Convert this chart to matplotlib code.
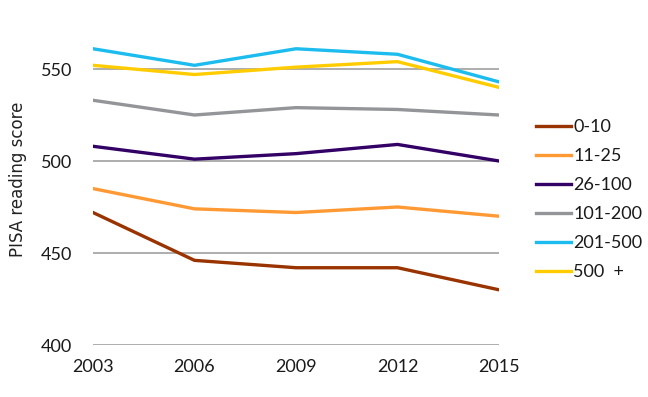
import matplotlib
matplotlib.use("Agg")
import matplotlib.pyplot as plt

# データ
years = [2003, 2006, 2009, 2012, 2015]
school_sizes = ["0-10", "11-25", "26-100", "101-200", "201-500", "500  +"]
s_0_10 = [472, 446, 442, 442, 430]
s_11_25 = [485, 474, 472, 475, 470]
s_26_100 = [508, 501, 504, 509, 500]
s_101_200 = [533, 525, 529, 528, 525]
s_201_500 = [561, 552, 561, 558, 543]
s_500_plus = [552, 547, 551, 554, 540]

colors = ["#993300", "#FF9933", "#330066", "#939598", "#1CBCEE", "#FFCC00"]

plt.rcParams['font.family'] = ['Lato', 'DejaVu Sans']

fig = plt.figure(figsize=(6.48, 3.97), dpi=100)
ax = fig.add_axes([93/648, 1 - 345/397, (499 - 93)/648, (345 - 13.8)/397])

series = [s_0_10, s_11_25, s_26_100, s_101_200, s_201_500, s_500_plus]
for label, vals, c in zip(school_sizes, series, colors):
    ax.plot(years, vals, color=c, linewidth=2.4, label=label, zorder=3)

ax.set_xlim(2003, 2015)
ax.set_ylim(400, 580)
ax.set_xticks(years)
ax.set_yticks([400, 450, 500, 550])
ax.yaxis.grid(True, color="#a0a0a0", linewidth=1.2)
ax.set_axisbelow(True)
for s in ax.spines.values():
    s.set_visible(False)
ax.tick_params(length=0, labelsize=13, colors="#1a1a1a")
ax.tick_params(axis="x", pad=10)
ax.tick_params(axis="y", pad=15)
ax.set_ylabel("PISA reading score", fontsize=12, color="#222222",
              family=["DejaVu Sans"], labelpad=10)

fig.legend(loc="upper left", bbox_to_anchor=(520/648, 1 - 103/397),
           frameon=False, fontsize=13, handlelength=1.9, handletextpad=0.15,
           labelspacing=0.72, labelcolor="#1a1a1a")

fig.savefig("out.png", dpi=100)
